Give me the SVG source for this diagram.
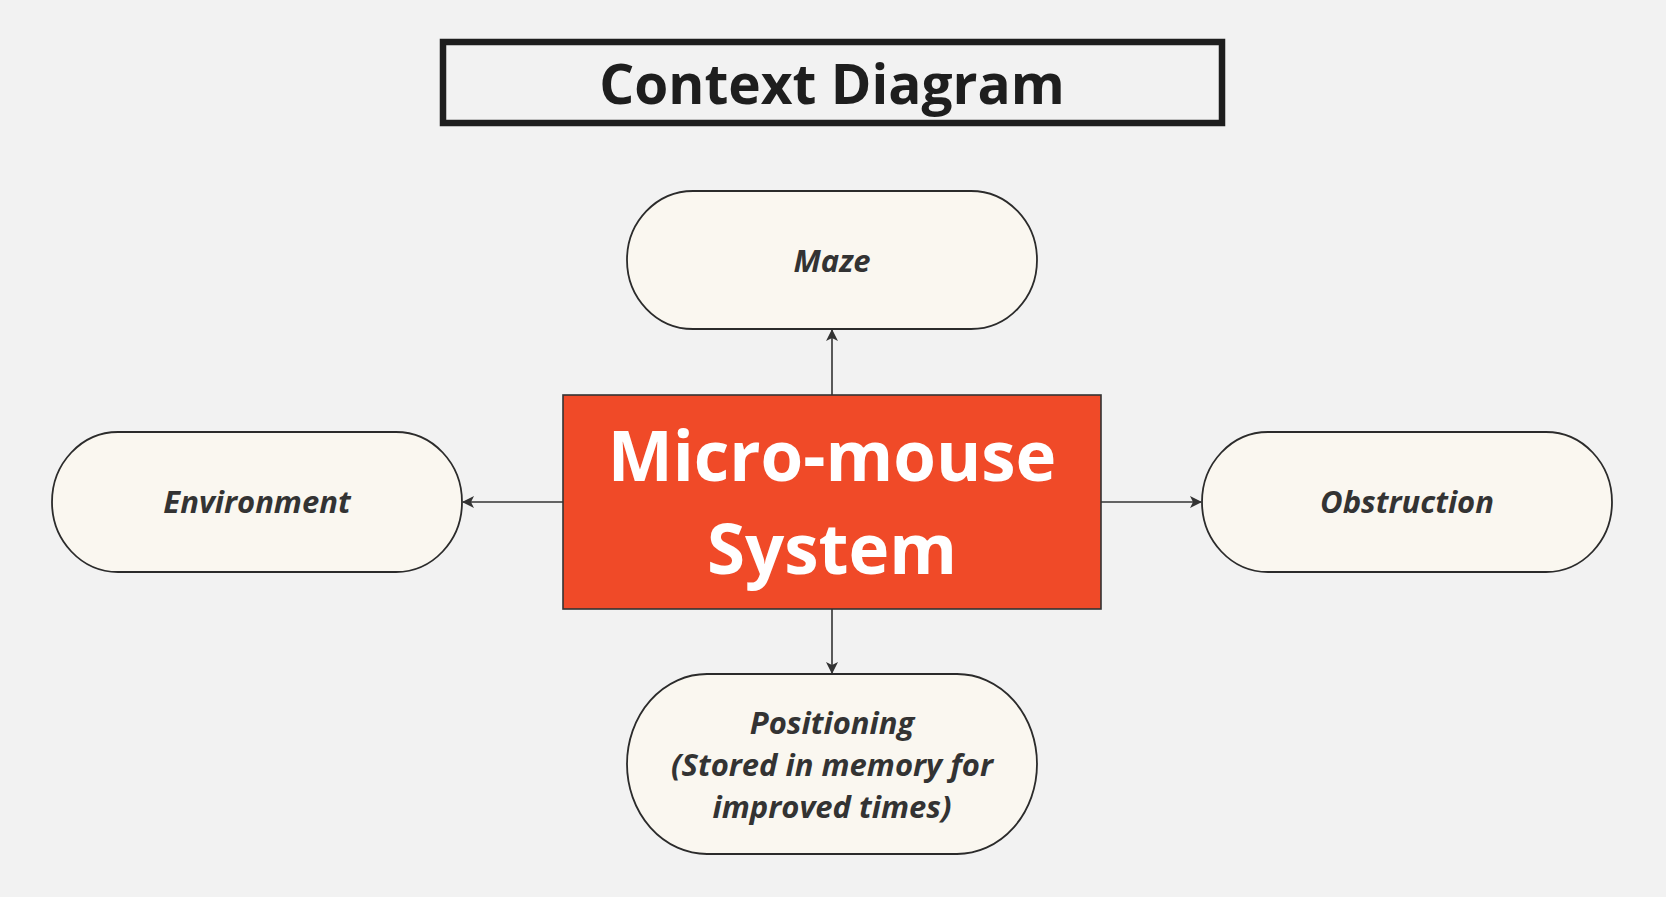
<svg xmlns="http://www.w3.org/2000/svg" width="1666" height="897" viewBox="0 0 1666 897">
<defs>
<style>
.node{fill:#FAF7F0;stroke:#2B2B2B;stroke-width:1.8}
.lbl{font-family:"Open Sans","Liberation Sans",sans-serif;font-weight:700;font-style:italic;font-size:31px;fill:#333333;text-anchor:middle}
.conn{stroke:#333333;stroke-width:1.6;fill:none;marker-end:url(#arr)}
</style>
<marker id="arr" viewBox="0 0 12 12" refX="11" refY="6" markerWidth="12" markerHeight="12" markerUnits="userSpaceOnUse" orient="auto">
<path d="M0,0 L12,6 L0,12 L3,6 Z" fill="#333333"/>
</marker>
</defs>
<rect x="0" y="0" width="1666" height="897" fill="#F2F2F2"/>
<g id="title">
<rect x="443" y="42" width="779" height="81" fill="none" stroke="#1E1E1E" stroke-width="6.5"/>
<text x="832" y="104" font-family="'Open Sans','Liberation Sans',sans-serif" font-weight="700" font-size="55" fill="#1E1E1E" text-anchor="middle">Context Diagram</text>
</g>
<g id="connectors">
<line class="conn" x1="832" y1="395" x2="832" y2="330"/>
<line class="conn" x1="563" y1="502" x2="463" y2="502"/>
<line class="conn" x1="1101" y1="502" x2="1201" y2="502"/>
<line class="conn" x1="832" y1="609" x2="832" y2="673"/>
</g>
<g id="maze">
<rect class="node" x="627" y="191" width="410" height="138" rx="66" ry="69"/>
<text class="lbl" x="832" y="272">Maze</text>
</g>
<g id="environment">
<rect class="node" x="52" y="432" width="410" height="140" rx="66" ry="70"/>
<text class="lbl" x="257" y="513">Environment</text>
</g>
<g id="obstruction">
<rect class="node" x="1202" y="432" width="410" height="140" rx="66" ry="70"/>
<text class="lbl" x="1407" y="513">Obstruction</text>
</g>
<g id="positioning">
<rect class="node" x="627" y="674" width="410" height="180" rx="80" ry="90"/>
<text class="lbl" x="832" y="734">Positioning</text>
<text class="lbl" x="832" y="776">(Stored in memory for</text>
<text class="lbl" x="832" y="818">improved times)</text>
</g>
<g id="system">
<rect x="563" y="395" width="538" height="214" fill="#F04A28" stroke="#333333" stroke-width="1.6"/>
<text x="832" y="481" font-family="'Open Sans','Liberation Sans',sans-serif" font-weight="700" font-size="69" fill="#FFFFFF" text-anchor="middle">Micro-mouse</text>
<text x="832" y="574" font-family="'Open Sans','Liberation Sans',sans-serif" font-weight="700" font-size="69" fill="#FFFFFF" text-anchor="middle">System</text>
</g>
</svg>
